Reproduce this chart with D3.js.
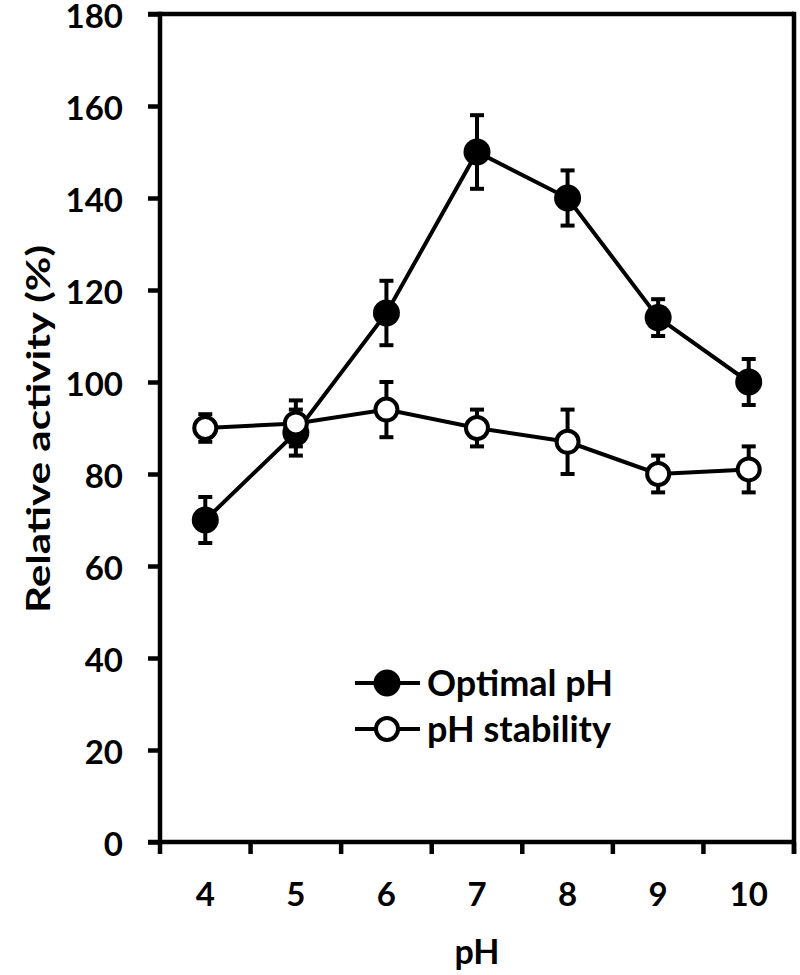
<!DOCTYPE html>
<html>
<head>
<meta charset="utf-8">
<script src="https://cdn.jsdelivr.net/npm/d3@7"></script>
<style>
  html, body { margin: 0; padding: 0; background: #fff; }
  text { font-family: Lato, "Open Sans", sans-serif; font-weight: bold; fill: #000; }
</style>
</head>
<body>
<svg id="chart" width="800" height="975"></svg>
<script>
const categories = ["4", "5", "6", "7", "8", "9", "10"];
const optimalValues = [70, 89, 115, 150, 140, 114, 100];
const optimalErrors = [5, 5, 7, 8, 6, 4, 5];
const stabilityValues = [90, 91, 94, 90, 87, 80, 81];
const stabilityErrors = [3, 5, 6, 4, 7, 4, 5];
const yTicks = [0, 20, 40, 60, 80, 100, 120, 140, 160, 180];
const seriesNames = ["Optimal pH", "pH stability"];

const svg = d3.select("#chart");
const m = { left: 160, right: 794, top: 14, bottom: 842 };
const x = d3.scaleBand().domain(categories).range([m.left, m.right]).padding(0);
const y = d3.scaleLinear().domain([0, 180]).range([m.bottom, m.top]);
const AX = 4.5;

// frame top & right
svg.append("line").attr("x1", m.left - 12).attr("x2", m.right).attr("y1", m.top).attr("y2", m.top)
  .attr("stroke", "#000").attr("stroke-width", AX);
svg.append("line").attr("x1", m.right).attr("x2", m.right).attr("y1", m.top - AX/2).attr("y2", m.bottom + 12)
  .attr("stroke", "#000").attr("stroke-width", AX);

// y axis
const yAxis = svg.append("g").attr("transform", `translate(${m.left},0)`)
  .call(d3.axisLeft(y).tickValues(yTicks).tickSize(12).tickPadding(25).tickSizeOuter(0));
yAxis.select(".domain").attr("stroke-width", AX).attr("d", `M0,${m.top - AX/2}V${m.bottom + AX/2}`);
yAxis.selectAll(".tick line").attr("stroke-width", AX);
yAxis.selectAll(".tick text").attr("dy", "0.42em")
  .style("font-size", "33px").style("font-family", "Lato, sans-serif").style("font-weight", "bold");

// x axis: labels at band centers
const xAxis = svg.append("g").attr("transform", `translate(0,${m.bottom})`)
  .call(d3.axisBottom(x).tickSize(0).tickPadding(0).tickSizeOuter(0));
xAxis.select(".domain").attr("stroke-width", AX).attr("d", `M${m.left - 12},0H${m.right}`);
xAxis.selectAll(".tick text").attr("dy", null).attr("y", 64)
  .style("font-size", "33px").style("font-family", "Lato, sans-serif").style("font-weight", "bold");
// tick marks at band boundaries
const bounds = categories.map(c => x(c)).concat([x(categories[categories.length - 1]) + x.bandwidth()]);
svg.append("g").selectAll("line").data(bounds).join("line")
  .attr("x1", d => d).attr("x2", d => d).attr("y1", m.bottom).attr("y2", m.bottom + 12)
  .attr("stroke", "#000").attr("stroke-width", AX);

// axis titles
svg.append("text").attr("x", 477).attr("y", 964).attr("text-anchor", "middle")
  .style("font-size", "34px").text("pH");
svg.append("text").attr("transform", `translate(50,429) rotate(-90)`)
  .attr("text-anchor", "middle").style("font-size", "32px")
  .attr("textLength", 368).attr("lengthAdjust", "spacingAndGlyphs")
  .text("Relative activity (%)");

const cx = c => x(c) + x.bandwidth() / 2;
const line = d3.line().x(d => cx(d.c)).y(d => y(d.v));

function drawSeries(vals, errs, filled) {
  const data = categories.map((c, i) => ({ c, v: vals[i], e: errs[i] }));
  const g = svg.append("g");
  g.append("path").datum(data).attr("d", line).attr("fill", "none").attr("stroke", "#000").attr("stroke-width", 4);
  const eb = g.append("g").selectAll("g").data(data).join("g");
  eb.append("line").attr("x1", d => cx(d.c)).attr("x2", d => cx(d.c))
    .attr("y1", d => y(d.v + d.e)).attr("y2", d => y(d.v - d.e)).attr("stroke", "#000").attr("stroke-width", 4);
  eb.append("line").attr("x1", d => cx(d.c) - 7).attr("x2", d => cx(d.c) + 7)
    .attr("y1", d => y(d.v + d.e)).attr("y2", d => y(d.v + d.e)).attr("stroke", "#000").attr("stroke-width", 4);
  eb.append("line").attr("x1", d => cx(d.c) - 7).attr("x2", d => cx(d.c) + 7)
    .attr("y1", d => y(d.v - d.e)).attr("y2", d => y(d.v - d.e)).attr("stroke", "#000").attr("stroke-width", 4);
  g.append("g").selectAll("circle").data(data).join("circle")
    .attr("cx", d => cx(d.c)).attr("cy", d => y(d.v))
    .attr("r", filled ? 13.5 : 11)
    .attr("fill", filled ? "#000" : "#fff").attr("stroke", "#000").attr("stroke-width", filled ? 0 : 4);
}
drawSeries(optimalValues, optimalErrors, true);
drawSeries(stabilityValues, stabilityErrors, false);

// legend
const legY = [683, 729];
seriesNames.forEach((name, i) => {
  const g = svg.append("g");
  g.append("line").attr("x1", 355).attr("x2", 420).attr("y1", legY[i]).attr("y2", legY[i])
    .attr("stroke", "#000").attr("stroke-width", 4);
  g.append("circle").attr("cx", 387).attr("cy", legY[i]).attr("r", i === 0 ? 13.5 : 11)
    .attr("fill", i === 0 ? "#000" : "#fff").attr("stroke", "#000").attr("stroke-width", i === 0 ? 0 : 4);
  g.append("text").attr("x", 427).attr("y", legY[i]).attr("dy", "0.36em")
    .style("font-size", "36px").text(name);
});
</script>
</body>
</html>
